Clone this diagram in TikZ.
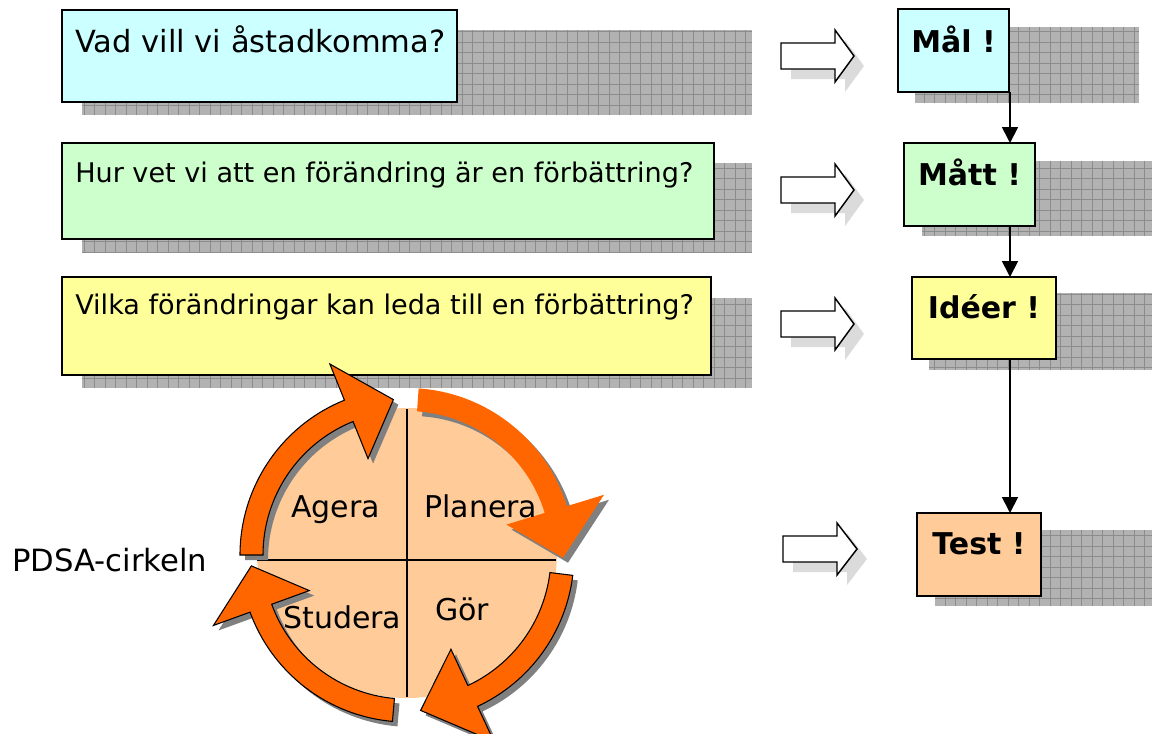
\documentclass[tikz,border=0pt]{standalone}
\usepackage{fontspec}
\setmainfont{DejaVu Sans}
\usetikzlibrary{arrows.meta}
\definecolor{cyanbox}{HTML}{CCFFFF}
\definecolor{greenbox}{HTML}{CCFFCC}
\definecolor{yellowbox}{HTML}{FFFF99}
\definecolor{peach}{HTML}{FFCC99}
\definecolor{pdsaorange}{HTML}{FF6600}
\newcommand\gshadow[4]{%
  \begin{scope}
    \clip (#1,-#2) rectangle (#3,-#4);
    \fill[shfill] (#1,-#2) rectangle (#3,-#4);
    \draw[shline,step=7.875pt] (#1,-#2) grid (#3,-#4);
  \end{scope}}
\newcommand\barrow[4]{%
  \path[bshadow, shift={(10,-10)}] (#1,{-(#4-13)}) -- (#2,{-(#4-13)}) -- (#2,{-(#4-26)}) -- (#3,-#4) -- (#2,{-(#4+26)}) -- (#2,{-(#4+13)}) -- (#1,{-(#4+13)}) -- cycle;
  \path[barrowst] (#1,{-(#4-13)}) -- (#2,{-(#4-13)}) -- (#2,{-(#4-26)}) -- (#3,-#4) -- (#2,{-(#4+26)}) -- (#2,{-(#4+13)}) -- (#1,{-(#4+13)}) -- cycle;}
\def\cro{167}\def\cri{144}\def\cbo{206}\def\cbi{104}\def\crt{156}
\newcommand\carrow[4]{%
  \fill[ashadow, shift={(5,-5)}] (#1:\cro) arc[start angle=#1,end angle=#2,radius=\cro] -- (#2:\cbo) -- (#3:\crt) -- (#2:\cbi) -- (#2:\cri) arc[start angle=#2,end angle=#1,radius=\cri] -- cycle;
  \path[#4] (#1:\cro) arc[start angle=#1,end angle=#2,radius=\cro] -- (#2:\cbo) -- (#3:\crt) -- (#2:\cbi) -- (#2:\cri) arc[start angle=#2,end angle=#1,radius=\cri] -- cycle;}
\begin{document}
\begin{tikzpicture}[x=0.75pt,y=0.75pt,
  shfill/.style={fill=black!30},
  shline/.style={draw=black!45,line width=0.4pt},
  bshadow/.style={fill=black!14},
  barrowst/.style={fill=white,draw=black,line width=1.1pt,line join=miter},
  ashadow/.style={fill=black!50},
  orangeline/.style={fill=pdsaorange,draw=black,line width=0.8pt,line join=miter},
  orangeplain/.style={fill=pdsaorange},
  qbox/.style={draw=black,line width=1.2pt,anchor=north west,inner sep=0pt,outer sep=0pt},
  qtext/.style={anchor=base west,inner sep=0pt},
  atext/.style={anchor=base,inner sep=0pt,font=\bfseries\fontsize{22.5}{27}\selectfont},
  ctext/.style={anchor=base west,inner sep=0pt,font=\fontsize{22.5}{27}\selectfont},
  conn/.style={draw=black,line width=1.3pt,-{Triangle[length=12pt,width=12pt]}}]
\useasboundingbox (0,0) rectangle (1152,-733);
% shadows
\gshadow{82}{30}{752}{115}
\gshadow{82}{163}{752}{252}
\gshadow{82}{298}{752}{388}
\gshadow{915}{27}{1139}{103}
\gshadow{922}{161}{1152}{236}
\gshadow{929}{293}{1152}{370}
\gshadow{935}{530}{1152}{606}
% question boxes
\node[qbox,fill=cyanbox,minimum width=296.25pt,minimum height=69pt] (q1) at (62,-10) {};
\node[qbox,fill=greenbox,minimum width=489pt,minimum height=72pt] (q2) at (62,-143) {};
\node[qbox,fill=yellowbox,minimum width=486.75pt,minimum height=73.5pt] (q3) at (62,-277) {};
\node[qtext,font=\fontsize{22.9}{27}\selectfont] (t1) at (75,-52) {Vad vill vi åstadkomma?};
\node[qtext,font=\fontsize{20.3}{24}\selectfont] (t2) at (75,-182) {Hur vet vi att en förändring är en förbättring?};
\node[qtext,font=\fontsize{20.3}{24}\selectfont] (t3) at (75,-314) {Vilka förändringar kan leda till en förbättring?};
% answer boxes
\node[qbox,fill=cyanbox,minimum width=83.25pt,minimum height=62.25pt] (mal) at (898,-9) {};
\node[qbox,fill=greenbox,minimum width=98.25pt,minimum height=62.25pt] (matt) at (904,-143) {};
\node[qbox,fill=yellowbox,minimum width=108pt,minimum height=61.5pt] (ideer) at (912,-277) {};
\node[qbox,fill=peach,minimum width=93pt,minimum height=62.25pt] (test) at (917,-513) {};
\node[atext] (amal) at (953.5,-52) {Mål !};
\node[atext] (amatt) at (969.5,-185) {Mått !};
\node[atext] (aideer) at (984,-318) {Idéer !};
\node[atext] (atest) at (979,-554) {Test !};
% block arrows
\barrow{781}{835}{854}{56}
\barrow{781}{835}{854}{190}
\barrow{781}{835}{854}{324}
\barrow{783}{837}{857}{549}
% connectors
\coordinate (cx) at (1010,0);
\draw[conn] (mal.south -| cx) -- (matt.north -| cx);
\draw[conn] (matt.south -| cx) -- (ideer.north -| cx);
\draw[conn] (ideer.south -| cx) -- (test.north -| cx);
% PDSA circle
\fill[peach] (407,-553) ellipse[x radius=150,y radius=145];
\draw[black,line width=1pt] (407,-409) -- (407,-697);
\draw[black,line width=1pt] (257,-560) -- (556,-560);
\begin{scope}[shift={(407,-555)}]
  \carrow{180}{112}{95}{orangeline}
  \carrow{86}{17}{-1}{orangeplain}
  \carrow{-7}{-65}{-85}{orangeline}
  \carrow{-95}{-160}{-176}{orangeline}
\end{scope}
\node[ctext] (agera) at (291,-517) {Agera};
\node[ctext] (planera) at (424,-517) {Planera};
\node[ctext] (studera) at (283,-628) {Studera};
\node[ctext] (gor) at (435,-620) {Gör};
\node[anchor=base west,inner sep=0pt,font=\fontsize{23}{27}\selectfont] (pdsa) at (12,-571) {PDSA-cirkeln};
\end{tikzpicture}
\end{document}
